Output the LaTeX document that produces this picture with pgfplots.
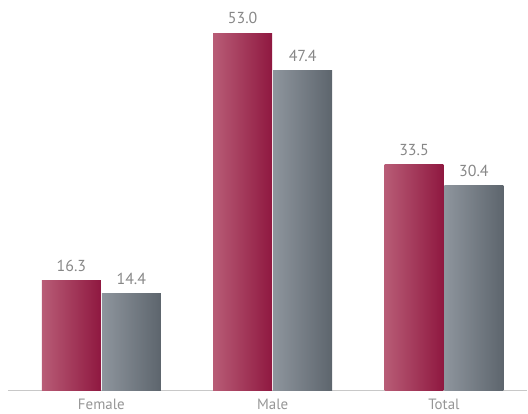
\documentclass[border=0pt]{standalone}
\usepackage{pgfplots}
\pgfplotsset{compat=1.18}
\usepackage{fontspec}
\setmainfont{PT Sans}
\definecolor{crimL}{RGB}{184,92,118}
\definecolor{crimR}{RGB}{143,24,64}
\definecolor{grayL}{RGB}{142,149,157}
\definecolor{grayR}{RGB}{93,101,109}
\definecolor{txt}{RGB}{150,150,150}
\definecolor{axisgray}{RGB}{200,200,200}
\pgfplotsset{
    crim/.style={draw=none, left color=crimL, right color=crimR, bar shift=-30bp},
    gry/.style={draw=none, left color=grayL, right color=grayR, bar shift=30bp},
}
\begin{document}
\begin{tikzpicture}
\begin{axis}[
    x=171.5bp, y=6.755bp,
    xmin=-0.545, xmax=2.487,
    ymin=0, ymax=57.9,
    ybar, bar width=59bp,
    axis x line*=bottom,
    axis y line=none,
    x axis line style={draw=axisgray, line width=1.3bp, -},
    xtick={0,1,2},
    xticklabels={Female, Male, Total},
    major tick length=0pt,
    x tick label style={font=\fontsize{15}{17}\selectfont, text=txt, yshift=-5bp},
    nodes near coords,
    nodes near coords style={font=\fontsize{16}{18}\selectfont, text=txt!90!black, inner sep=0pt, anchor=south, yshift=9bp},
    /pgf/number format/.cd, fixed, fixed zerofill, precision=1, assume math mode=true,
    /pgfplots/.cd,
    clip=false,
]
% one plot per bar so that each bar gets its own shading
\addplot[crim] coordinates {(0,16.3)};
\addplot[gry] coordinates {(0,14.4)};
\addplot[crim] coordinates {(1,53.0)};
\addplot[gry] coordinates {(1,47.4)};
\addplot[crim] coordinates {(2,33.5)};
\addplot[gry] coordinates {(2,30.4)};
\end{axis}
\path (current axis.south west) ++(-8bp,0) circle (0pt);
\path (current axis.north east) circle (0pt);
\end{tikzpicture}
\end{document}
